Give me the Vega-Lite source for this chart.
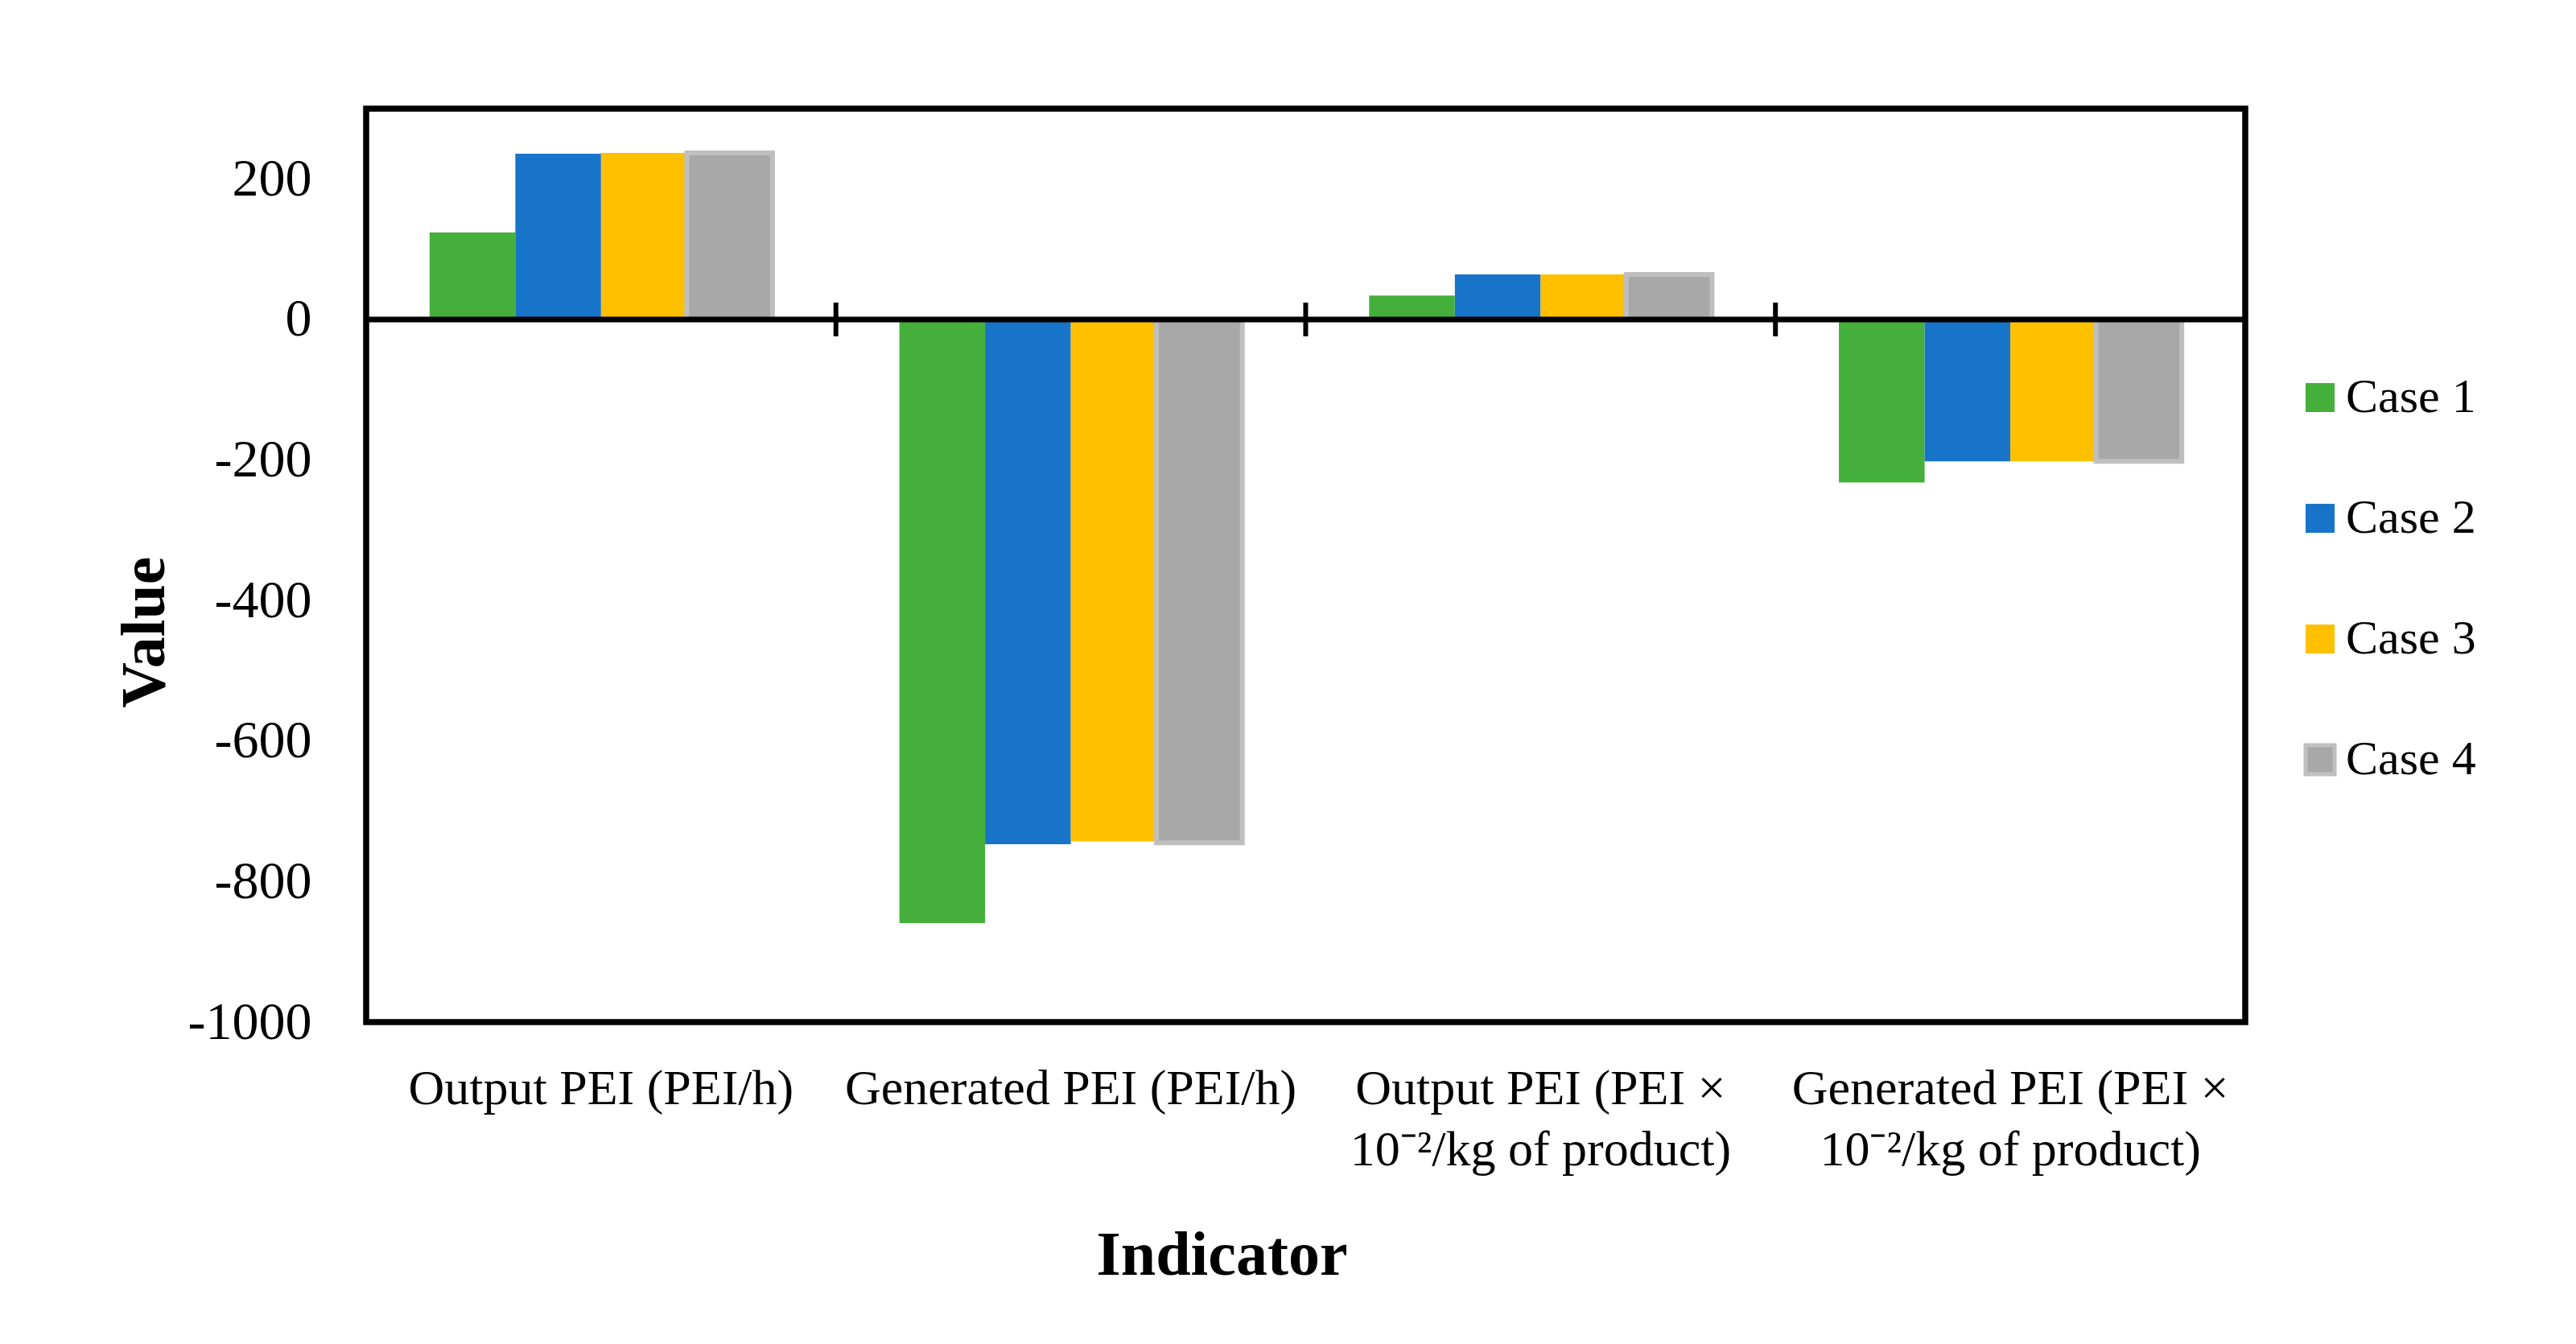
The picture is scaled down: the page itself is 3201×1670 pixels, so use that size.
{
  "$schema": "https://vega.github.io/schema/vega-lite/v6.json",
  "autosize": "none",
  "width": 2335,
  "height": 1135,
  "padding": {"left": 455, "top": 135, "right": 411, "bottom": 400},
  "background": "white",
  "config": {
    "font": "Liberation Serif",
    "view": {"stroke": "#000000", "strokeWidth": 7.5},
    "axis": {"labelColor": "#000000", "titleColor": "#000000", "labelFont": "Liberation Serif", "titleFont": "Liberation Serif"},
    "legend": {"labelFont": "Liberation Serif", "labelColor": "#000000"}
  },
  "datasets": {
    "bars": [
      {"Indicator": "Output PEI (PEI/h)", "Case": "Case 1", "Value": 124},
      {"Indicator": "Output PEI (PEI/h)", "Case": "Case 2", "Value": 236},
      {"Indicator": "Output PEI (PEI/h)", "Case": "Case 3", "Value": 237},
      {"Indicator": "Output PEI (PEI/h)", "Case": "Case 4", "Value": 237},
      {"Indicator": "Generated PEI (PEI/h)", "Case": "Case 1", "Value": -859},
      {"Indicator": "Generated PEI (PEI/h)", "Case": "Case 2", "Value": -747},
      {"Indicator": "Generated PEI (PEI/h)", "Case": "Case 3", "Value": -743},
      {"Indicator": "Generated PEI (PEI/h)", "Case": "Case 4", "Value": -745},
      {"Indicator": "Output PEI (PEI ×\n10⁻²/kg of product)", "Case": "Case 1", "Value": 34},
      {"Indicator": "Output PEI (PEI ×\n10⁻²/kg of product)", "Case": "Case 2", "Value": 64},
      {"Indicator": "Output PEI (PEI ×\n10⁻²/kg of product)", "Case": "Case 3", "Value": 64},
      {"Indicator": "Output PEI (PEI ×\n10⁻²/kg of product)", "Case": "Case 4", "Value": 64},
      {"Indicator": "Generated PEI (PEI ×\n10⁻²/kg of product)", "Case": "Case 1", "Value": -232},
      {"Indicator": "Generated PEI (PEI ×\n10⁻²/kg of product)", "Case": "Case 2", "Value": -202},
      {"Indicator": "Generated PEI (PEI ×\n10⁻²/kg of product)", "Case": "Case 3", "Value": -202},
      {"Indicator": "Generated PEI (PEI ×\n10⁻²/kg of product)", "Case": "Case 4", "Value": -202}
    ],
    "ticks": [
      {"Indicator": "Generated PEI (PEI/h)", "lo": -24, "hi": 24},
      {"Indicator": "Output PEI (PEI ×\n10⁻²/kg of product)", "lo": -24, "hi": 24},
      {"Indicator": "Generated PEI (PEI ×\n10⁻²/kg of product)", "lo": -24, "hi": 24}
    ]
  },
  "layer": [
    {
      "data": {"name": "bars"},
      "mark": {"type": "bar", "strokeWidth": 6},
      "encoding": {
        "x": {
          "field": "Indicator", "type": "nominal",
          "sort": ["Output PEI (PEI/h)", "Generated PEI (PEI/h)", "Output PEI (PEI ×\n10⁻²/kg of product)", "Generated PEI (PEI ×\n10⁻²/kg of product)"],
          "scale": {"domain": ["Output PEI (PEI/h)", "Generated PEI (PEI/h)", "Output PEI (PEI ×\n10⁻²/kg of product)", "Generated PEI (PEI ×\n10⁻²/kg of product)"], "paddingInner": 0.27, "paddingOuter": 0.135},
          "axis": {
            "title": "Indicator", "labelAngle": 0, "domain": false, "ticks": false,
            "labelExpr": "split(datum.label, '\\n')",
            "labelFontSize": 62, "labelLineHeight": 76, "labelPadding": 52, "labelLimit": 1000,
            "titleFontSize": 78, "titleFontWeight": "bold", "titlePadding": 62,
            "titleX": 1063, "titleAnchor": "middle"
          }
        },
        "xOffset": {"field": "Case", "type": "nominal", "scale": {"paddingInner": 0, "paddingOuter": 0}},
        "y": {
          "field": "Value", "type": "quantitative",
          "scale": {"domain": [-1000, 300], "nice": false, "zero": false},
          "axis": {
            "title": "Value", "values": [-1000, -800, -600, -400, -200, 0, 200],
            "labelExpr": "datum.value < 0 ? '-' + abs(datum.value) : '' + datum.value",
            "grid": false, "domain": false, "ticks": false,
            "labelFontSize": 66, "labelPadding": 68,
            "titleFontSize": 78, "titleFontWeight": "bold", "titlePadding": 36,
            "titleY": 650, "titleAnchor": "middle"
          }
        },
        "color": {
          "field": "Case", "type": "nominal",
          "scale": {"domain": ["Case 1", "Case 2", "Case 3", "Case 4"], "range": ["#45AF3C", "#1874C8", "#FFC000", "#A8A8A8"]},
          "legend": {
            "title": null, "orient": "none", "legendX": 2398, "legendY": 329,
            "symbolType": "square", "symbolSize": 1300, "labelFontSize": 60, "labelLimit": 600,
            "labelOffset": 2, "rowPadding": 90, "symbolStrokeWidth": 5
          }
        },
        "stroke": {
          "field": "Case", "type": "nominal",
          "scale": {"domain": ["Case 1", "Case 2", "Case 3", "Case 4"], "range": ["rgba(0,0,0,0)", "rgba(0,0,0,0)", "rgba(0,0,0,0)", "#BFBFBF"]},
          "legend": {
            "title": null, "orient": "none", "legendX": 2398, "legendY": 329,
            "symbolType": "square", "symbolSize": 1300, "labelFontSize": 60, "labelLimit": 600,
            "labelOffset": 2, "rowPadding": 90, "symbolStrokeWidth": 5
          }
        }
      }
    },
    {
      "data": {"values": [{"z": 0}]},
      "mark": {"type": "rule", "color": "#000000", "strokeWidth": 7},
      "encoding": {"y": {"field": "z", "type": "quantitative"}}
    },
    {
      "data": {"name": "ticks"},
      "mark": {"type": "rule", "color": "#000000", "strokeWidth": 6},
      "encoding": {
        "x": {"field": "Indicator", "type": "nominal", "bandPosition": -0.185,
              "sort": ["Output PEI (PEI/h)", "Generated PEI (PEI/h)", "Output PEI (PEI ×\n10⁻²/kg of product)", "Generated PEI (PEI ×\n10⁻²/kg of product)"]},
        "y": {"field": "lo", "type": "quantitative"},
        "y2": {"field": "hi"}
      }
    }
  ]
}
